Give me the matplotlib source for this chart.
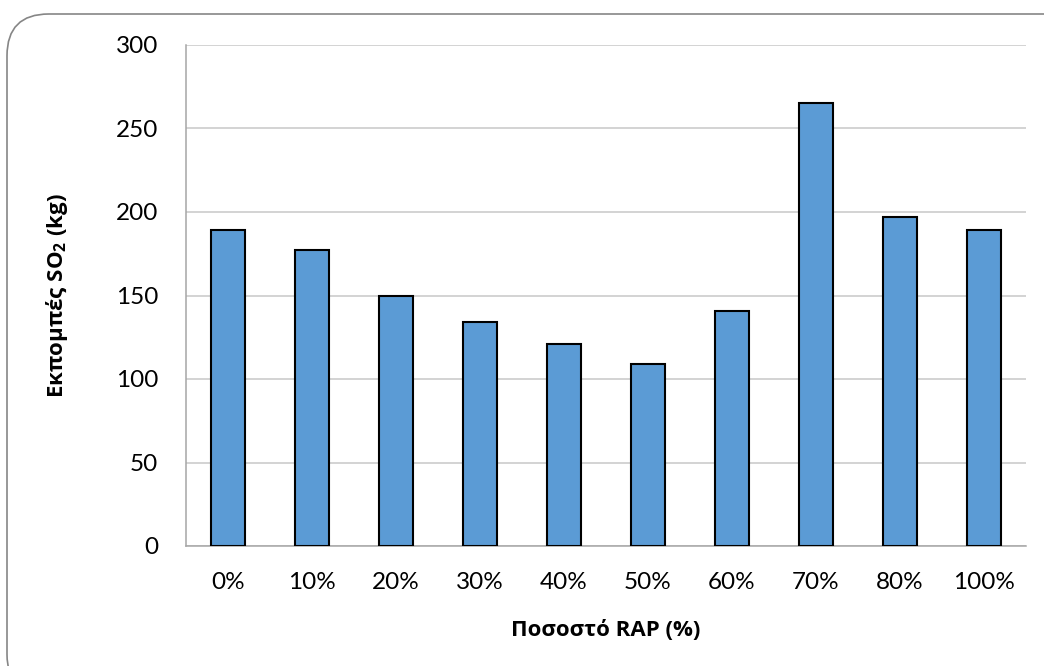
import matplotlib
matplotlib.use('Agg')
from matplotlib import pyplot as plt
from matplotlib.patches import FancyBboxPatch

plt.rcParams['font.family'] = ['Lato', 'Noto Sans', 'DejaVu Sans']
plt.rcParams['mathtext.fontset'] = 'custom'
plt.rcParams['mathtext.rm'] = 'Open Sans:bold'
plt.rcParams['mathtext.bf'] = 'Open Sans:bold'

categories = ['0%', '10%', '20%', '30%', '40%', '50%', '60%', '70%', '80%', '100%']
so2 = [189, 177, 150, 134, 121, 109, 141, 265, 197, 189]

fig = plt.figure(figsize=(10.44, 6.66), dpi=100)
ax = fig.add_axes([186 / 1044, 1 - 546 / 666, 840 / 1044, 501 / 666])

# rounded chart frame, running off the right and bottom edges
frame = FancyBboxPatch((7 / 1044, -30 / 666), 1.2, 1 - 14 / 666 + 30 / 666,
                       boxstyle='round,pad=0,rounding_size=0.04',
                       transform=fig.transFigure, facecolor='white',
                       edgecolor='#868686', linewidth=1.2, zorder=-10,
                       mutation_aspect=1044 / 666)
fig.patches.append(frame)

x = range(len(categories))
ax.bar(x, so2, width=0.4, color='#5B9BD5', edgecolor='black', linewidth=1.5, zorder=3)

ax.set_xlim(-0.5, len(categories) - 0.5)
ax.set_ylim(0, 300)
ax.set_yticks(range(0, 301, 50))
ax.set_xticks(list(x))
ax.set_xticklabels(categories)
ax.tick_params(axis='both', length=0, labelsize=17.5)
ax.tick_params(axis='y', pad=20)
ax.tick_params(axis='x', pad=19)

ax.grid(axis='y', color='#C8C8C8', linewidth=1.1, zorder=0)
for side in ['top', 'right']:
    ax.spines[side].set_visible(False)
for side in ['left', 'bottom']:
    ax.spines[side].set_color('#A6A6A6')
    ax.spines[side].set_linewidth(1.1)
ax.set_facecolor('none')

ax.set_ylabel(r'Εκπομπές SO$_\mathbf{2}$ (kg)', fontsize=16, fontweight='bold',
              family='Open Sans', va='center')
ax.yaxis.set_label_coords(-129 / 840, 0.5)
ax.set_xlabel('Ποσοστό RAP (%)', fontsize=16, fontweight='bold',
              family='Open Sans', va='center')
ax.xaxis.set_label_coords(0.5, -84 / 501)

fig.savefig('out.png', dpi=100)
